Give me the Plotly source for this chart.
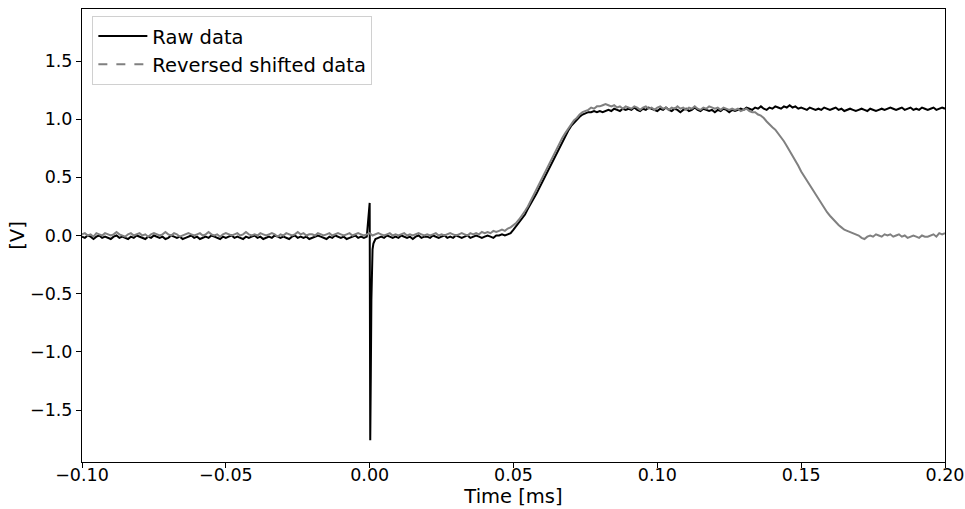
import numpy as np
import plotly.graph_objects as go

# Raw data on a 0.001 ms grid starting at -0.100 ms
raw_values = [
    -0.01, -0.02, 0.00, -0.01, -0.03, -0.01, 0.00, -0.02, -0.01, -0.02,
    -0.03, -0.01, 0.00, -0.02, -0.01, -0.02, -0.03, -0.01, -0.02, 0.00,
    -0.01, -0.02, -0.03, -0.01, -0.02, 0.00, -0.01, -0.02, -0.01, -0.03,
    -0.02, 0.00, -0.01, -0.02, -0.01, -0.03, -0.02, -0.01, 0.00, -0.02,
    -0.01, -0.03, -0.02, -0.01, -0.02, 0.00, -0.01, -0.02, -0.03, -0.01,
    -0.02, -0.01, 0.00, -0.02, -0.01, -0.02, -0.03, -0.01, -0.02, -0.01,
    0.00, -0.02, -0.01, -0.03, -0.02, -0.01, -0.02, 0.00, -0.01, -0.02,
    -0.01, -0.02, -0.03, -0.01, 0.00, -0.02, -0.01, -0.02, -0.01, -0.03,
    -0.02, -0.01, 0.00, -0.01, -0.02, -0.03, -0.01, -0.02, 0.00, -0.01,
    -0.02, -0.01, -0.03, -0.02, -0.01, 0.00, -0.02, -0.01, -0.02, -0.01,
    0.28, -0.12, -0.03, -0.02, -0.01, -0.02, 0.00, -0.01, -0.02, -0.01,
    -0.02, 0.00, -0.01, -0.02, -0.01, -0.03, -0.01, 0.00, -0.02, -0.01,
    -0.01, -0.02, 0.00, -0.01, -0.02, -0.01, 0.00, -0.02, -0.01, -0.02,
    0.00, -0.01, -0.02, -0.01, 0.00, -0.02, -0.01, 0.00, -0.01, -0.02,
    -0.01, 0.00, -0.01, -0.02, 0.00, 0.00, 0.01, 0.00, 0.01, 0.02,
    0.05, 0.08, 0.11, 0.14, 0.18, 0.23, 0.27, 0.32, 0.36, 0.41,
    0.46, 0.51, 0.56, 0.61, 0.66, 0.71, 0.76, 0.81, 0.86, 0.90,
    0.94, 0.97, 1.00, 1.02, 1.04, 1.05, 1.06, 1.06, 1.07, 1.06,
    1.07, 1.06, 1.07, 1.08, 1.07, 1.09, 1.08, 1.07, 1.09, 1.08,
    1.09, 1.08, 1.10, 1.08, 1.07, 1.09, 1.08, 1.10, 1.09, 1.08,
    1.07, 1.09, 1.08, 1.10, 1.08, 1.07, 1.09, 1.08, 1.06, 1.08,
    1.09, 1.07, 1.08, 1.10, 1.08, 1.07, 1.09, 1.08, 1.07, 1.08,
    1.06, 1.08, 1.07, 1.09, 1.08, 1.06, 1.08, 1.07, 1.08, 1.09,
    1.08, 1.10, 1.09, 1.08, 1.10, 1.09, 1.11, 1.09, 1.08, 1.10,
    1.09, 1.11, 1.10, 1.09, 1.11, 1.10, 1.12, 1.10, 1.11, 1.09,
    1.10, 1.09, 1.08, 1.10, 1.09, 1.08, 1.09, 1.08, 1.10, 1.09,
    1.08, 1.09, 1.10, 1.08, 1.09, 1.07, 1.08, 1.09, 1.08, 1.07,
    1.08, 1.09, 1.08, 1.07, 1.09, 1.08, 1.07, 1.08, 1.09, 1.08,
    1.09, 1.10, 1.09, 1.08, 1.09, 1.10, 1.08, 1.09, 1.10, 1.08,
    1.09, 1.08, 1.10, 1.09, 1.08, 1.09, 1.10, 1.08, 1.09, 1.10, 1.09,
]

# Extra fine samples of the spike near t = 0
spike_time = [0.0002, 0.0004, 0.0006, 0.0008, 0.0013, 0.0017]
spike_values = [-1.76, -1.20, -0.55, -0.25, -0.07, -0.05]

# Reversed shifted data on the same grid
reversed_values = [
    0.01, 0.02, 0.00, 0.01, -0.01, 0.02, 0.01, 0.00, 0.02, 0.01,
    0.00, 0.01, 0.03, 0.01, 0.00, -0.01, 0.01, 0.02, 0.00, 0.01,
    0.02, 0.00, 0.01, -0.01, 0.01, 0.02, 0.01, 0.00, 0.01, 0.03,
    0.01, 0.00, 0.02, 0.01, -0.01, 0.00, 0.01, 0.02, 0.01, 0.00,
    0.01, 0.02, 0.00, 0.01, 0.03, 0.01, 0.00, 0.01, -0.01, 0.01,
    0.02, 0.01, 0.00, 0.01, 0.02, 0.00, 0.01, 0.03, 0.01, 0.00,
    0.01, 0.00, 0.02, 0.01, 0.00, 0.01, 0.02, 0.01, -0.01, 0.01,
    0.00, 0.02, 0.01, 0.00, 0.01, 0.03, 0.01, 0.02, 0.00, 0.01,
    0.01, 0.00, 0.02, 0.01, 0.00, 0.01, 0.02, 0.00, 0.01, 0.02,
    0.01, 0.00, 0.01, 0.02, 0.00, 0.01, 0.02, 0.01, 0.00, 0.01,
    0.02, 0.00, 0.01, 0.02, 0.01, 0.00, 0.01, 0.02, 0.00, 0.01,
    0.00, 0.01, 0.02, 0.00, 0.01, 0.00, 0.01, 0.02, 0.01, 0.00,
    0.01, 0.00, 0.01, 0.02, 0.00, 0.01, 0.00, 0.01, 0.02, 0.01,
    0.00, 0.01, 0.02, 0.01, 0.00, 0.02, 0.01, 0.02, 0.01, 0.03,
    0.02, 0.03, 0.02, 0.04, 0.03, 0.04, 0.05, 0.04, 0.06, 0.07,
    0.09, 0.11, 0.14, 0.17, 0.21, 0.25, 0.30, 0.34, 0.39, 0.44,
    0.49, 0.54, 0.59, 0.64, 0.69, 0.74, 0.79, 0.84, 0.88, 0.92,
    0.95, 0.99, 1.01, 1.04, 1.06, 1.07, 1.08, 1.10, 1.09, 1.11,
    1.11, 1.12, 1.13, 1.12, 1.11, 1.12, 1.10, 1.11, 1.09, 1.11,
    1.10, 1.09, 1.11, 1.10, 1.08, 1.10, 1.11, 1.09, 1.10, 1.08,
    1.10, 1.11, 1.09, 1.10, 1.08, 1.10, 1.09, 1.11, 1.09, 1.10,
    1.08, 1.10, 1.09, 1.11, 1.09, 1.08, 1.10, 1.09, 1.11, 1.10,
    1.09, 1.10, 1.08, 1.10, 1.09, 1.08, 1.09, 1.08, 1.09, 1.07,
    1.08, 1.09, 1.07, 1.06, 1.06, 1.04, 1.03, 1.01, 0.98, 0.95,
    0.93, 0.91, 0.88, 0.85, 0.81, 0.77, 0.73, 0.68, 0.64, 0.60,
    0.55, 0.51, 0.47, 0.43, 0.39, 0.35, 0.31, 0.27, 0.23, 0.20,
    0.17, 0.14, 0.11, 0.09, 0.07, 0.05, 0.04, 0.03, 0.02, 0.01,
    0.00, -0.02, -0.03, -0.01, 0.00, -0.01, 0.01, 0.00, -0.01, 0.01,
    0.00, 0.01, -0.01, 0.00, 0.01, -0.01, 0.00, -0.02, -0.01, 0.00,
    -0.01, -0.02, 0.00, -0.01, -0.01, 0.00, 0.01, -0.01, 0.02, 0.01, 0.02,
]

x_ticks = [-0.10, -0.05, 0.00, 0.05, 0.10, 0.15, 0.20]
x_tick_labels = ["\u22120.10", "\u22120.05", "0.00", "0.05", "0.10", "0.15", "0.20"]
y_ticks = [-1.5, -1.0, -0.5, 0.0, 0.5, 1.0, 1.5]
y_tick_labels = ["\u22121.5", "\u22121.0", "\u22120.5", "0.0", "0.5", "1.0", "1.5"]

t_start, t_step = -0.1, 0.001
raw_time = np.round(t_start + t_step * np.arange(len(raw_values)), 4)
rev_time = np.round(t_start + t_step * np.arange(len(reversed_values)), 4)

# merge raw grid with the fine spike samples
rt = np.concatenate([raw_time, np.array(spike_time)])
rv = np.concatenate([np.array(raw_values), np.array(spike_values)])
order = np.argsort(rt, kind="stable")
rt, rv = rt[order], rv[order]

fig = go.Figure()
fig.add_trace(go.Scatter(x=rt, y=rv, mode="lines",
                         line=dict(color="black", width=2), name="Raw data"))
fig.add_trace(go.Scatter(x=rev_time, y=reversed_values, mode="lines",
                         line=dict(color="#808080", width=2), showlegend=False))
fig.add_trace(go.Scatter(x=[None], y=[None], mode="lines",
                         line=dict(color="#808080", width=2, dash="dash"),
                         name="Reversed shifted data"))

font_family = "DejaVu Sans"
fig.update_layout(
    width=965, height=509,
    margin=dict(l=82, r=20, t=9, b=47),
    paper_bgcolor="white", plot_bgcolor="white",
    font=dict(family=font_family, size=17, color="black"),
    showlegend=True,
    legend=dict(x=0.012, y=0.985, xanchor="left", yanchor="top",
                bgcolor="rgba(255,255,255,0.8)", bordercolor="#d0d0d0", borderwidth=1,
                font=dict(size=19.5, family=font_family), tracegroupgap=0,
                itemwidth=49),
    xaxis=dict(range=[-0.1, 0.2], tickvals=x_ticks, ticktext=x_tick_labels,
               showgrid=False, zeroline=False, showline=True, linecolor="black",
               linewidth=1, mirror=True, ticks="outside", ticklen=5, tickcolor="black",
               tickfont=dict(size=17.5), automargin=False, ticklabelstandoff=-8,
               title=dict(text="Time [ms]", font=dict(size=19.5), standoff=0)),
    yaxis=dict(range=[-1.947, 1.947], tickvals=y_ticks, ticktext=y_tick_labels,
               showgrid=False, zeroline=False, showline=True, linecolor="black",
               linewidth=1, mirror=True, ticks="outside", ticklen=5, tickcolor="black",
               tickfont=dict(size=17.5), automargin=False,
               title=dict(text="[V]", font=dict(size=19.5), standoff=0)),
)

fig.write_html("out.html", config={"displayModeBar": False},
               post_script="document.body.style.margin='0';document.body.style.overflow='hidden';")
